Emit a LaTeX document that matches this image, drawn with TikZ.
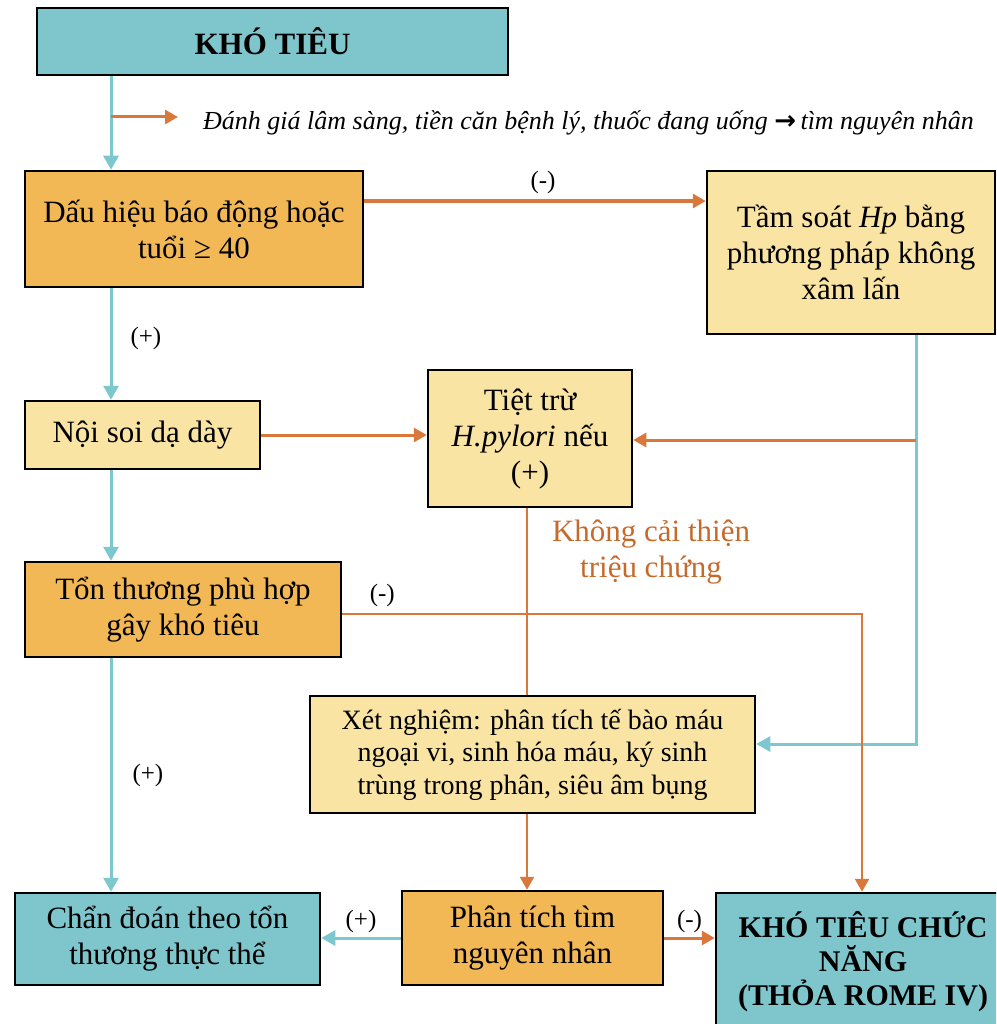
\documentclass[tikz,border=0pt]{standalone}
\usepackage{fontspec}
\setmainfont{Liberation Serif}
\newfontfamily\symfont{DejaVu Sans}
\usepackage{tikz}
\usetikzlibrary{positioning, arrows.meta}

\definecolor{tealbox}{HTML}{7EC6CC}
\definecolor{orangebox}{HTML}{F2B856}
\definecolor{creambox}{HTML}{F9E4A4}
\definecolor{orangeline}{HTML}{D9783A}
\definecolor{cyanline}{HTML}{7DC8CE}
\definecolor{orangetext}{HTML}{C66A2C}

\tikzset{
  box/.style={draw=black, line width=2.5pt, align=center, inner sep=0pt, font=\fontsize{31}{36}\selectfont},
  tealnode/.style={box, fill=tealbox},
  orangenode/.style={box, fill=orangebox},
  creamnode/.style={box, fill=creambox},
  cline/.style={draw=cyanline, line width=3pt, -{Triangle[width=15pt,length=14pt]}},
  oline/.style={draw=orangeline, line width=3pt, -{Triangle[width=14pt,length=13pt]}},
  sign/.style={font=\fontsize{25}{30}\selectfont, inner sep=2pt},
}

\begin{document}
\begin{tikzpicture}[x=1pt, y=-1pt]
            \useasboundingbox (0,0) rectangle (996,1024);
            \clip (0,0) rectangle (996,1024);

            \node[tealnode, minimum width=471pt, minimum height=67pt] (kt) at (272.5,41.5) {\textbf{KHÓ TIÊU}};
            \node[orangenode, minimum width=338pt, minimum height=116pt] (dh) at (194,229) {Dấu hiệu báo động hoặc\\tuổi ≥ 40};
            \node[creamnode, minimum width=288pt, minimum height=163pt] (ts) at (851,252.5) {Tầm soát \textit{Hp} bằng\\phương pháp không\\xâm lấn};
            \node[creamnode, minimum width=235pt, minimum height=68pt] (ns) at (142.5,435) {Nội soi dạ dày};
            \node[creamnode, minimum width=204pt, minimum height=137pt, text depth=6pt] (tt) at (530,438.5) {Tiệt trừ\\\textit{H.pylori} nếu\\(+)};
            \node[orangenode, minimum width=316pt, minimum height=95pt] (tn) at (183,609.5) {Tổn thương phù hợp\\gây khó tiêu};
            \node[creamnode, minimum width=445pt, minimum height=117pt, font=\fontsize{28}{32.5}\selectfont] (xn) at (532.5,754.5) {Xét nghiệm: phân tích tế bào máu\\ngoại vi, sinh hóa máu, ký sinh\\trùng trong phân, siêu âm bụng};
            \node[tealnode, minimum width=305pt, minimum height=92pt] (cd) at (167.5,939) {Chẩn đoán theo tổn\\thương thực thể};
            \node[orangenode, minimum width=261pt, minimum height=94pt] (pt) at (532.5,938) {Phân tích tìm\\nguyên nhân};
            \node[tealnode, minimum width=294pt, minimum height=138pt, font=\fontsize{30}{34}\selectfont\bfseries] (kc) at (863,962) {KHÓ TIÊU CHỨC\\NĂNG\\(THỎA ROME IV)};

            \node[anchor=west, inner sep=0pt, font=\fontsize{26}{30}\selectfont\itshape] (eval) at (203,123) {Đánh giá lâm sàng, tiền căn bệnh lý, thuốc đang uống {\symfont\bfseries\upshape →}\,tìm nguyên nhân};
            \node[font=\fontsize{31}{36}\selectfont, text=orangetext, align=center] (kct) at (651,552) {Không cải thiện\\triệu chứng};

            \coordinate (colL) at (111,0);
            \coordinate (colR) at (916,0);
            \coordinate (colM) at (527,0);
            \coordinate (ev) at (111,117);
            \coordinate (evtip) at (178,117);
            \coordinate (dhr) at (363,201);
            \coordinate (r1) at (916,440);
            \coordinate (r2) at (916,744);
            \coordinate (tnr) at (862,614);

            \draw[cline] (kt.south -| colL) -- (dh.north -| colL);
            \draw[oline] (ev) -- (evtip);
            \draw[oline, line width=3.5pt] (dh.east |- dhr) -- (ts.west |- dhr) node[midway, above=3pt, xshift=8pt, sign] {(-)};
            \draw[cline] (dh.south -| colL) -- (ns.north -| colL) node[pos=0.45, right=16pt, sign] {(+)};
            \draw[oline] (ns.east) -- (ns.east -| tt.west);
            \draw[cline] (ts.south -| colR) -- (r2) -- (r2 -| xn.east);
            \draw[oline] (r1) -- (r1 -| tt.east);
            \draw[cline] (ns.south -| colL) -- (tn.north -| colL);
            \draw[draw=orangeline, line width=2.5pt] (tt.south -| colM) -- (xn.north -| colM);
            \draw[oline, line width=2.5pt] (tn.east |- tnr) -- node[pos=0.077, above=4pt, sign] {(-)} (tnr) -- (kc.north -| tnr);
            \draw[cline] (tn.south -| colL) -- (cd.north -| colL) node[midway, right=18pt, sign] {(+)};
            \draw[oline, line width=2.5pt] (xn.south -| colM) -- (pt.north -| colM);
            \draw[cline] (pt.west) -- (cd.east |- pt.west) node[midway, above=2pt, sign] {(+)};
            \draw[oline] (pt.east) -- (kc.west |- pt.east) node[midway, above=2pt, sign] {(-)};
        \end{tikzpicture}
\end{document}
